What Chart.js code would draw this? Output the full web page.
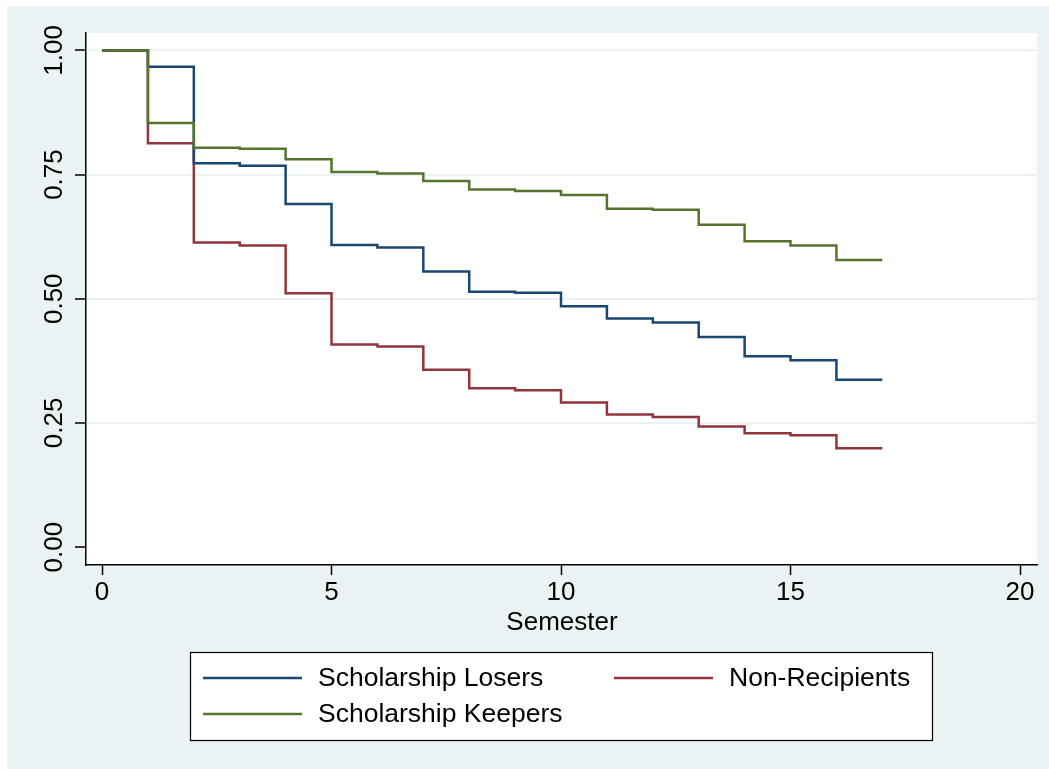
<!DOCTYPE html>
<html>
<head>
<meta charset="utf-8">
<script src="https://cdn.jsdelivr.net/npm/chart.js@4/dist/chart.umd.min.js"></script>
<style>
  html, body { margin: 0; padding: 0; background: #ffffff; }
  #wrap { width: 1049px; height: 769px; }
</style>
</head>
<body>
<div id="wrap"><canvas id="km" width="1049" height="769"></canvas></div>
<script>
// Kaplan-Meier style step values, one per semester interval [k, k+1)
var semesters = [0, 1, 2, 3, 4, 5, 6, 7, 8, 9, 10, 11, 12, 13, 14, 15, 16, 17];
var losers  = [1.000, 0.967, 0.773, 0.768, 0.691, 0.608, 0.603, 0.555, 0.514, 0.512, 0.485, 0.460, 0.452, 0.423, 0.384, 0.376, 0.337];
var nonRec  = [1.000, 0.813, 0.613, 0.607, 0.511, 0.408, 0.404, 0.357, 0.320, 0.316, 0.291, 0.267, 0.262, 0.243, 0.229, 0.225, 0.199];
var keepers = [1.000, 0.854, 0.804, 0.802, 0.781, 0.755, 0.752, 0.737, 0.720, 0.717, 0.709, 0.681, 0.679, 0.649, 0.616, 0.607, 0.578];
var xTicks = [0, 5, 10, 15, 20];
var yTicks = [0, 0.25, 0.5, 0.75, 1];
var yTickLabels = ['0.00', '0.25', '0.50', '0.75', '1.00'];
var xTitle = 'Semester';

var FONT = '"Liberation Sans", Arial, Helvetica, sans-serif';
var BG = '#eaf2f3';

// step points: value of interval k starts at x=k, last value held until the last semester
function steps(vals) {
    var pts = [];
    for (var i = 0; i < semesters.length; i++) {
        var v = i < vals.length ? vals[i] : vals[vals.length - 1];
        pts.push({ x: semesters[i], y: v });
    }
    return pts;
}

var backdrop = {
    id: 'backdrop',
    beforeDraw: function (chart) {
        var ctx = chart.ctx, a = chart.chartArea;
        ctx.save();
        ctx.fillStyle = '#ffffff';
        ctx.fillRect(0, 0, chart.width, chart.height);
        ctx.fillStyle = BG;
        ctx.fillRect(7, 6, chart.width - 7, chart.height - 6);
        ctx.fillStyle = '#ffffff';
        ctx.fillRect(a.left, a.top, a.right - a.left, a.bottom - a.top);
        ctx.restore();
    }
};

// axis title and Stata-like legend box under the plot
var legendBox = {
    id: 'legendBox',
    afterDraw: function (chart) {
        var ctx = chart.ctx;
        var ds = chart.data.datasets;
        var a = chart.chartArea;
        var slots = [
            { x: 203, y: 678 },
            { x: 614, y: 678 },
            { x: 203, y: 714 }
        ];
        ctx.save();
        ctx.fillStyle = '#000000';
        ctx.font = '26px ' + FONT;
        ctx.textAlign = 'center';
        ctx.textBaseline = 'middle';
        ctx.fillText(xTitle, (a.left + a.right) / 2 + 0.5, 623);

        ctx.fillStyle = '#ffffff';
        ctx.fillRect(190, 652, 742, 88);
        ctx.strokeStyle = '#000000';
        ctx.lineWidth = 1.2;
        ctx.strokeRect(190.5, 652.5, 742, 88);
        ctx.font = '26.5px ' + FONT;
        ctx.textAlign = 'left';
        for (var i = 0; i < ds.length; i++) {
            var s = slots[i];
            ctx.strokeStyle = ds[i].borderColor;
            ctx.lineWidth = 2.5;
            ctx.beginPath();
            ctx.moveTo(s.x, s.y);
            ctx.lineTo(s.x + 99, s.y);
            ctx.stroke();
            ctx.fillStyle = '#000000';
            ctx.fillText(ds[i].label, s.x + 115, s.y + 1);
        }
        ctx.restore();
    }
};

var ctx = document.getElementById('km').getContext('2d');
var chart = new Chart(ctx, {
    type: 'line',
    data: {
        datasets: [{
            label: 'Scholarship Losers',
            data: steps(losers),
            borderColor: '#1a476f',
            order: 1
        }, {
            label: 'Non-Recipients',
            data: steps(nonRec),
            borderColor: '#90353b',
            order: 2
        }, {
            label: 'Scholarship Keepers',
            data: steps(keepers),
            borderColor: '#55752f',
            order: 0
        }]
    },
    options: {
        responsive: false,
        animation: false,
        devicePixelRatio: 1,
        elements: {
            line: { stepped: true, borderWidth: 2.5, tension: 0 },
            point: { radius: 0, hoverRadius: 0 }
        },
        layout: { padding: { top: 33, right: 12, left: 0, bottom: 0 } },
        plugins: {
            legend: { display: false },
            tooltip: { enabled: false }
        },
        scales: {
            x: {
                type: 'linear',
                min: -0.349,
                max: 20.37,
                afterBuildTicks: function (scale) {
                    scale.ticks = xTicks.map(function (v) { return { value: v }; });
                },
                afterFit: function (scale) {
                    scale.height = 204;
                    scale.paddingLeft = 0;
                    scale.paddingRight = 0;
                },
                border: { display: true, color: '#000000', width: 1.5 },
                grid: { drawOnChartArea: false, drawTicks: true, tickLength: 10, tickColor: '#000000', tickWidth: 1.5 },
                ticks: {
                    color: '#000000',
                    font: { family: FONT, size: 26 },
                    padding: 2,
                    maxRotation: 0,
                    autoSkip: false
                }
            },
            y: {
                type: 'linear',
                min: -0.036,
                max: 1.035,
                afterBuildTicks: function (scale) {
                    scale.ticks = yTicks.map(function (v) { return { value: v }; });
                },
                afterFit: function (scale) {
                    scale.width = 86;
                    scale.paddingTop = 0;
                    scale.paddingBottom = 0;
                },
                border: { display: true, color: '#000000', width: 1.5 },
                grid: {
                    drawOnChartArea: true,
                    drawTicks: true,
                    tickLength: 11,
                    tickWidth: 1.5,
                    tickColor: '#000000',
                    lineWidth: 2,
                    color: function (c) {
                        return c.tick && c.tick.value === 0 ? 'rgba(0,0,0,0)' : BG;
                    }
                },
                ticks: {
                    color: '#000000',
                    font: { family: FONT, size: 26 },
                    padding: -5,
                    minRotation: 90,
                    maxRotation: 90,
                    crossAlign: 'center',
                    autoSkip: false,
                    callback: function (value) {
                        var i = yTicks.indexOf(value);
                        return i >= 0 ? yTickLabels[i] : '';
                    }
                }
            }
        }
    },
    plugins: [backdrop, legendBox]
});
</script>
</body>
</html>
